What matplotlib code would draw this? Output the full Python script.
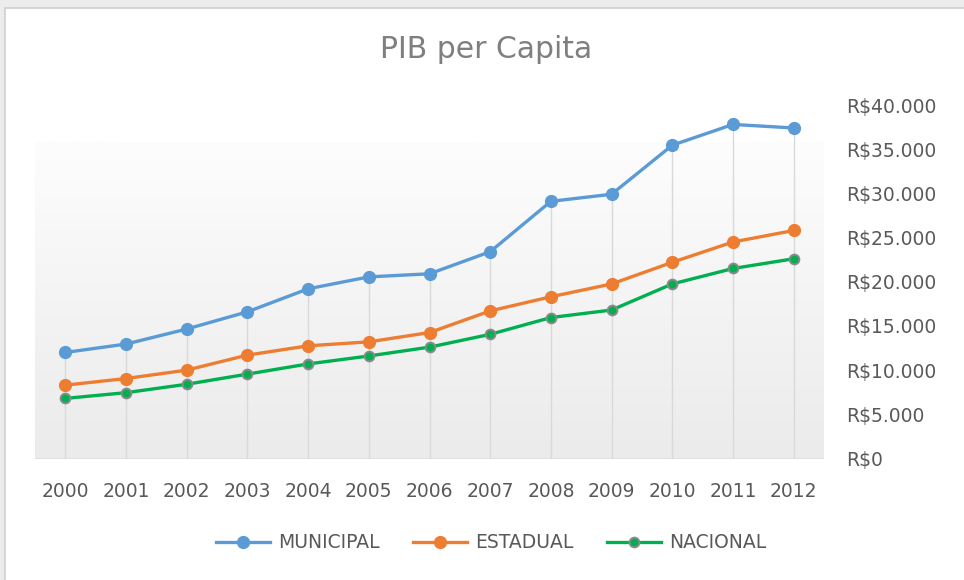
import numpy as np
import matplotlib
matplotlib.use("Agg")
import matplotlib.pyplot as plt
from matplotlib.ticker import FuncFormatter
from matplotlib.patches import Rectangle

# data (R$ per capita)
years = [2000, 2001, 2002, 2003, 2004, 2005, 2006, 2007, 2008, 2009, 2010, 2011, 2012]
municipal = [12000, 12950, 14650, 16600, 19200, 20550, 20900, 23400, 29100, 29900, 35450, 37800, 37400]
estadual = [8300, 9050, 10000, 11700, 12750, 13200, 14250, 16700, 18300, 19750, 22200, 24500, 25800]
nacional = [6800, 7450, 8400, 9550, 10700, 11600, 12600, 14050, 15950, 16800, 19750, 21500, 22600]
series_names = ["MUNICIPAL", "ESTADUAL", "NACIONAL"]
y_ticks = [0, 5000, 10000, 15000, 20000, 25000, 30000, 35000, 40000]

plt.rcParams['font.family'] = ['DejaVu Sans']

fig = plt.figure(figsize=(9.64, 5.8), dpi=100, facecolor='#ececec')
# chart frame (white card)
fig.patches.append(Rectangle((5 / 964, -0.01), 1.0, 1 - 8 / 580 + 0.01,
                             transform=fig.transFigure, facecolor='white',
                             edgecolor='#cfcfcf', lw=1.2, zorder=-10))

ax = fig.add_axes([35 / 964, 121.5 / 580, 789 / 964, 353.5 / 580])
ax.set_facecolor('none')
ax.set_zorder(1)

# plot-area gradient (light grey at bottom, white at top)
grad = np.linspace(0, 1, 256).reshape(-1, 1)
cmap = matplotlib.colors.LinearSegmentedColormap.from_list('g', ['#ebebeb', '#fdfdfd'])
ax.imshow(grad, aspect='auto', cmap=cmap, origin='lower',
          extent=(1999.5, 2012.5, 0, 35700), zorder=0)

# drop lines
ax.vlines(years, 0, municipal, color='#d9d9d9', lw=1, zorder=1)
ax.axhline(0, color='#d9d9d9', lw=1.2, zorder=1)

ax.plot(years, municipal, color='#5b9bd5', lw=2.4, marker='o', ms=8.5,
        label=series_names[0], zorder=3)
ax.plot(years, estadual, color='#ed7d31', lw=2.4, marker='o', ms=8.5,
        label=series_names[1], zorder=3)
ax.plot(years, nacional, color='#00b050', lw=2.4, marker='o', ms=7,
        mfc='#00b050', mec='#8a8a8a', mew=1.4, label=series_names[2], zorder=3)

ax.set_xlim(1999.5, 2012.5)
ax.set_ylim(0, 40000)
ax.set_xticks(years)
ax.set_yticks(y_ticks)
ax.yaxis.tick_right()
ax.yaxis.set_major_formatter(FuncFormatter(
    lambda v, p: 'R\\$' + f'{int(v):,}'.replace(',', '.')))
ax.tick_params(axis='y', length=0, pad=16, labelsize=13.5, labelcolor='#595959')
ax.tick_params(axis='x', length=0, pad=17, labelsize=13.5, labelcolor='#595959')
for lbl in ax.get_yticklabels():
    lbl.set_horizontalalignment('left')
for s in ax.spines.values():
    s.set_visible(False)

fig.text(486 / 964, 1 - 50 / 580, 'PIB per Capita', ha='center', va='center',
         fontsize=21.5, color='#7f7f7f')

fig.legend(loc='center', bbox_to_anchor=(491 / 964, 1 - 543 / 580), ncol=3,
           frameon=False, fontsize=13.5, handlelength=2.9, columnspacing=1.8,
           handletextpad=0.4, labelcolor='#595959')

plt.savefig('out.png', dpi=100, facecolor=fig.get_facecolor())
